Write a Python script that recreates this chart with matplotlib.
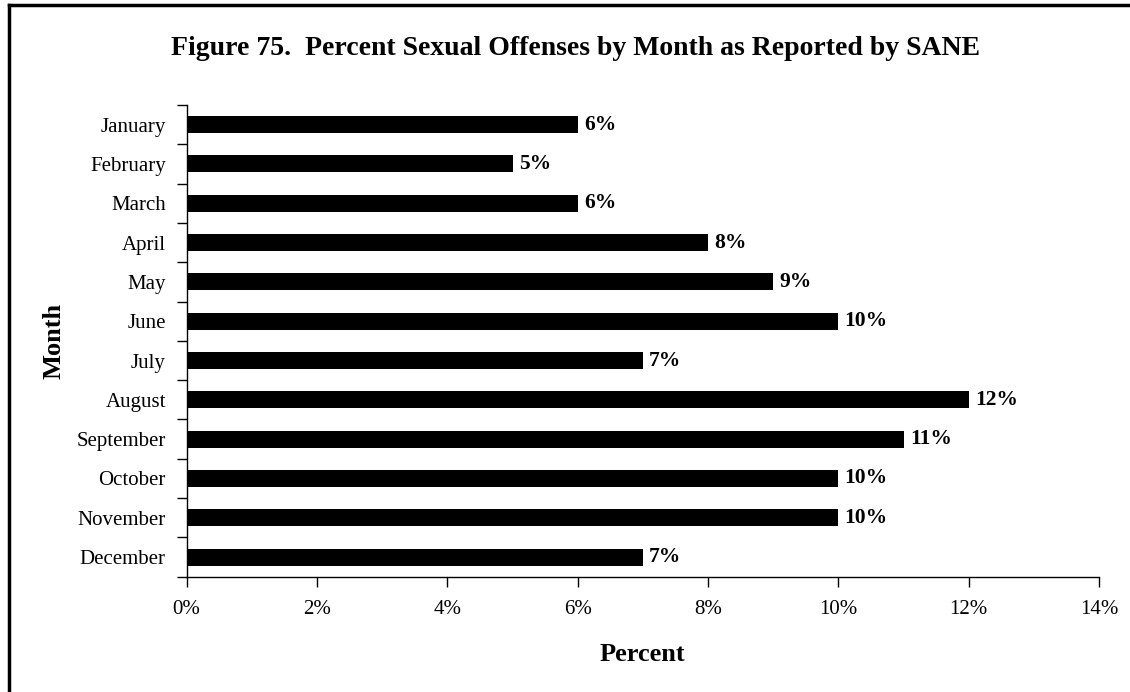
import matplotlib
matplotlib.use("Agg")
import matplotlib.pyplot as plt
from matplotlib.lines import Line2D

months = ["January", "February", "March", "April", "May", "June", "July",
          "August", "September", "October", "November", "December"]
percent = [6, 5, 6, 8, 9, 10, 7, 12, 11, 10, 10, 7]
x_ticks = [0, 2, 4, 6, 8, 10, 12, 14]

plt.rcParams["font.family"] = ["Liberation Serif", "DejaVu Serif"]

fig = plt.figure(figsize=(11.3, 6.92), dpi=100)
ax = fig.add_axes([0.1652, 0.1666, 0.9726 - 0.1652, 0.8483 - 0.1666])

y = list(range(len(months)))
ax.barh(y, percent, height=0.43, color="black")
for yi, v in zip(y, percent):
    ax.annotate(f"{v}%", (v, yi), xytext=(4.5, 0), textcoords="offset points",
                va="center", ha="left", fontsize=15.5, fontweight="bold")

ax.set_xlim(0, 14)
ax.set_ylim(len(months) - 0.5, -0.5)
ax.set_xticks(x_ticks)
ax.set_xticklabels([f"{t}%" for t in x_ticks], fontsize=15)
ax.set_yticks(y)
ax.set_yticklabels(months, fontsize=15)
ax.tick_params(axis="y", length=0, pad=15)
ax.set_yticks([i - 0.5 for i in range(len(months) + 1)], minor=True)
ax.tick_params(axis="y", which="minor", length=7, width=1)
ax.tick_params(axis="x", length=7, width=1, pad=10)
ax.spines[["top", "right"]].set_visible(False)
ax.spines["left"].set_linewidth(1)
ax.spines["bottom"].set_linewidth(1)

ax.set_xlabel("Percent", fontsize=19, fontweight="bold", labelpad=17)
ax.set_ylabel("Month", fontsize=19, fontweight="bold", labelpad=8)

fig.text(0.509, 0.930, "Figure 75.  Percent Sexual Offenses by Month as Reported by SANE",
         ha="center", va="center", fontsize=20, fontweight="bold")

# outer frame (top and left edges visible)
fig.add_artist(Line2D([9 / 1130, 9 / 1130], [0, 1 - 5 / 692], transform=fig.transFigure,
                      color="black", lw=2.5))
fig.add_artist(Line2D([9 / 1130, 1], [1 - 5 / 692, 1 - 5 / 692], transform=fig.transFigure,
                      color="black", lw=2.5))

fig.savefig("out.png", dpi=100)
